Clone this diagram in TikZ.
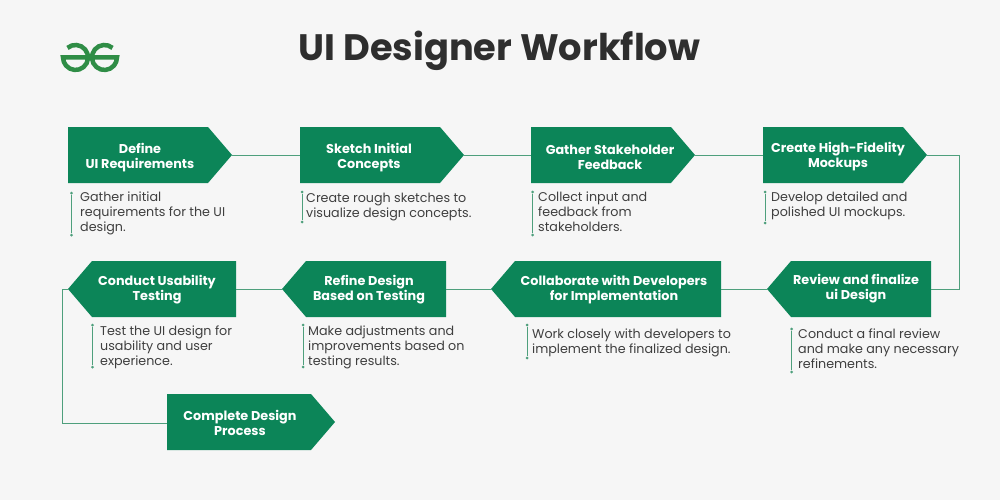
\documentclass[tikz,border=0pt]{standalone}
\usepackage{fontspec}
\setmainfont{Poppins}
\usetikzlibrary{shapes.symbols}
\definecolor{bgc}{HTML}{F6F6F6}
\definecolor{boxc}{HTML}{0C8558}
\definecolor{linec}{HTML}{4E9F7C}
\definecolor{txtc}{HTML}{3F3F3F}
\definecolor{logoc}{HTML}{2F8D46}
\tikzset{
  stepshape/.style={shape=signal,fill=boxc,draw=none,inner sep=0pt,outer sep=0pt,minimum height=56pt,signal pointer angle=98.8},
  stepright/.style={stepshape,signal to=east,signal from=nowhere},
  stepleft/.style={stepshape,signal to=west,signal from=nowhere},
  steptext/.style={text=white,align=center,font=\fontsize{12.8}{15}\selectfont\bfseries,inner sep=0pt},
  desctext/.style={text=txtc,align=left,anchor=north west,font=\fontsize{12.7}{15}\selectfont,inner sep=0pt},
  conn/.style={draw=linec,line width=0.9pt},
  descbar/.style={draw=linec,line width=0.9pt},
  descdot/.style={fill=linec,draw=none,circle,minimum size=3pt,inner sep=0pt},
  titletext/.style={text=black!82,font=\fontsize{36.8}{40}\selectfont\bfseries,inner sep=0pt},
  logoline/.style={draw=logoc,line width=4.5pt},
}
\newcommand{\descbarat}[4]{%
  \node[descdot] (#1t) at (#2,#3) {};
  \node[descdot] (#1b) at (#2,#4) {};
  \draw[descbar] (#1t) -- (#1b);}
\begin{document}
\begin{tikzpicture}[x=1pt,y=-1pt]
\fill[bgc] (0,0) rectangle (1000,500);
\useasboundingbox (0,0) rectangle (1000,500);
% logo
\draw[logoline] (67.5,47.9) arc[start angle=130,end angle=-180,radius=12.5pt] -- (88,57.5);
\draw[logoline] (112.5,47.9) arc[start angle=50,end angle=360,radius=12.5pt] -- (92,57.5);
\node[titletext] (title) at (499.5,50.5) {UI Designer Workflow};
% steps
\node[stepright,minimum width=164pt] (s1) at (138,155) {};
\node[stepright,minimum width=164pt] (s2) at (370,155) {};
\node[stepright,minimum width=164pt] (s3) at (601,155) {};
\node[stepright,minimum width=164pt] (s4) at (833,155) {};
\node[stepleft,minimum width=164pt] (s5) at (861,289) {};
\node[stepleft,minimum width=230pt] (s6) at (618,289) {};
\node[stepleft,minimum width=164pt] (s7) at (376,289) {};
\node[stepleft,minimum width=168pt] (s8) at (164,289) {};
\node[stepright,minimum width=168pt] (s9) at (239,422) {};
\node[steptext] (t1) at (140,158) {Define\\UI Requirements};
\node[steptext] (t2) at (369,158) {Sketch Initial\\Concepts};
\node[steptext] (t3) at (610,157.5) {Gather Stakeholder\\Feedback};
\node[steptext] (t4) at (838,157) {Create High-Fidelity\\Mockups};
\node[steptext] (t5) at (856,289) {Review and finalize\\ui Design};
\node[steptext] (t6) at (614,290) {Collaborate with Developers\\for Implementation};
\node[steptext] (t7) at (369,290) {Refine Design\\Based on Testing};
\node[steptext] (t8) at (157,290) {Conduct Usability\\Testing};
\node[steptext] (t9) at (240,422.5) {Complete Design\\Process};
% connectors
\draw[conn] (s1.east) -- (s2.west);
\draw[conn] (s2.east) -- (s3.west);
\draw[conn] (s3.east) -- (s4.west);
\coordinate (c1) at (959,155);
\coordinate (c2) at (959,289);
\draw[conn] (s4.east) -- (c1) -- (c2) -- (s5.east);
\draw[conn] (s5.west) -- (s6.east);
\draw[conn] (s6.west) -- (s7.east);
\draw[conn] (s7.west) -- (s8.east);
\coordinate (c3) at (62,289);
\coordinate (c4) at (62,423);
\draw[conn] (s8.west) -- (c3) -- (c4) -- (c4 -| s9.west);
% descriptions
\descbarat{b1}{71.5}{193}{235}
\node[desctext] (d1) at (80,192) {Gather initial\\requirements for the UI\\design.};
\descbarat{b2}{302}{192}{222}
\node[desctext] (d2) at (306,193) {Create rough sketches to\\visualize design concepts.};
\descbarat{b3}{532.5}{192}{235}
\node[desctext] (d3) at (538,192) {Collect input and\\feedback from\\stakeholders.};
\descbarat{b4}{765}{192}{223}
\node[desctext] (d4) at (771,192) {Develop detailed and\\polished UI mockups.};
\descbarat{b5}{791.5}{329}{372}
\node[desctext] (d5) at (798,329) {Conduct a final review\\and make any necessary\\refinements.};
\descbarat{b6}{527}{325}{358}
\node[desctext] (d6) at (532,329) {Work closely with developers to\\implement the finalized design.};
\descbarat{b7}{303}{325}{367}
\node[desctext] (d7) at (308,326) {Make adjustments and\\improvements based on\\testing results.};
\descbarat{b8}{92.5}{325}{367}
\node[desctext] (d8) at (100,326) {Test the UI design for\\usability and user\\experience.};
\end{tikzpicture}
\end{document}
